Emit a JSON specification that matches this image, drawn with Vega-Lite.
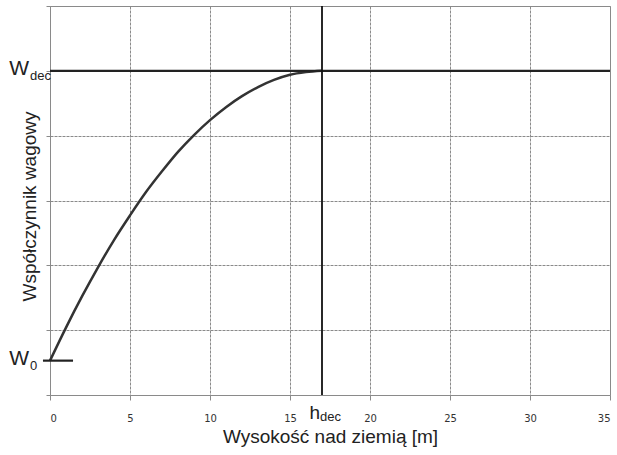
{
  "$schema": "https://vega.github.io/schema/vega-lite/v6.json",
  "width": 560,
  "height": 389,
  "autosize": {"type": "none"},
  "padding": {"left": 50, "top": 6, "right": 7, "bottom": 60},
  "background": "white",
  "config": {
    "view": {"stroke": "#8a8a8a", "strokeWidth": 1},
    "axis": {
      "grid": true,
      "gridColor": "#8a8a8a",
      "gridWidth": 1,
      "gridDash": [3, 1],
      "domain": false,
      "tickColor": "#8a8a8a",
      "tickSize": 5,
      "labelFont": "DejaVu Sans",
      "labelFontSize": 10,
      "labelColor": "#333333",
      "titleFont": "Liberation Sans",
      "titleFontSize": 19,
      "titleFontWeight": "normal",
      "titleColor": "#222222"
    }
  },
  "datasets": {
    "curve": [
      {"h": 0, "w": 0.53}, {"h": 1, "w": 1.04}, {"h": 2, "w": 1.52}, {"h": 3, "w": 1.97},
      {"h": 4, "w": 2.39}, {"h": 5, "w": 2.77}, {"h": 6, "w": 3.13}, {"h": 7, "w": 3.45},
      {"h": 8, "w": 3.75}, {"h": 9, "w": 4.01}, {"h": 10, "w": 4.24}, {"h": 11, "w": 4.44},
      {"h": 12, "w": 4.61}, {"h": 13, "w": 4.75}, {"h": 14, "w": 4.86}, {"h": 15, "w": 4.94},
      {"h": 16, "w": 4.98}, {"h": 17, "w": 5.0}
    ],
    "levels": [
      {"name": "W", "sub": "dec", "h0": 0, "h1": 35, "w": 5},
      {"name": "W", "sub": "0", "h0": -0.44, "h1": 1.44, "w": 0.53}
    ],
    "hdec": [{"name": "h", "sub": "dec", "h": 17, "w0": 0, "w1": 6}]
  },
  "layer": [
    {
      "data": {"name": "curve"},
      "mark": {"type": "line", "color": "#333333", "strokeWidth": 2.5, "interpolate": "monotone"},
      "encoding": {
        "x": {
          "field": "h", "type": "quantitative",
          "scale": {"domain": [0, 35], "nice": false, "zero": false},
          "axis": {"values": [0, 5, 10, 15, 20, 25, 30, 35], "title": "Wysokość nad ziemią [m]", "titlePadding": 4, "labelPadding": 13}
        },
        "y": {
          "field": "w", "type": "quantitative",
          "scale": {"domain": [0, 6], "nice": false},
          "axis": {"values": [0, 1, 2, 3, 4, 5, 6], "labels": false, "tickSize": 4, "title": "Współczynnik wagowy", "titlePadding": 6, "titleY": 200}
        }
      }
    },
    {
      "data": {"name": "levels"},
      "mark": {"type": "rule", "color": "#222222", "strokeWidth": 2.2, "clip": false},
      "encoding": {
        "x": {"field": "h0", "type": "quantitative"},
        "x2": {"field": "h1"},
        "y": {"field": "w", "type": "quantitative"}
      }
    },
    {
      "data": {"name": "hdec"},
      "mark": {"type": "rule", "color": "#111111", "strokeWidth": 1.8},
      "encoding": {
        "x": {"field": "h", "type": "quantitative"},
        "y": {"field": "w0", "type": "quantitative"},
        "y2": {"field": "w1"}
      }
    },
    {
      "data": {"name": "levels"},
      "mark": {"type": "text", "align": "right", "baseline": "middle", "dx": -21, "dy": -2, "font": "Liberation Sans", "fontSize": 21, "color": "#222222"},
      "encoding": {
        "x": {"datum": 0, "type": "quantitative"},
        "y": {"field": "w", "type": "quantitative"},
        "text": {"field": "name"}
      }
    },
    {
      "data": {"name": "levels"},
      "mark": {"type": "text", "align": "left", "baseline": "middle", "dx": -20, "dy": 5, "font": "Liberation Sans", "fontSize": 13, "color": "#222222"},
      "encoding": {
        "x": {"datum": 0, "type": "quantitative"},
        "y": {"field": "w", "type": "quantitative"},
        "text": {"field": "sub"}
      }
    },
    {
      "data": {"name": "hdec"},
      "mark": {"type": "text", "align": "right", "baseline": "middle", "dx": -2, "dy": 18, "font": "Liberation Sans", "fontSize": 19, "color": "#222222"},
      "encoding": {
        "x": {"field": "h", "type": "quantitative"},
        "y": {"field": "w0", "type": "quantitative"},
        "text": {"field": "name"}
      }
    },
    {
      "data": {"name": "hdec"},
      "mark": {"type": "text", "align": "left", "baseline": "middle", "dx": -2, "dy": 22, "font": "Liberation Sans", "fontSize": 13, "color": "#222222"},
      "encoding": {
        "x": {"field": "h", "type": "quantitative"},
        "y": {"field": "w0", "type": "quantitative"},
        "text": {"field": "sub"}
      }
    }
  ]
}
